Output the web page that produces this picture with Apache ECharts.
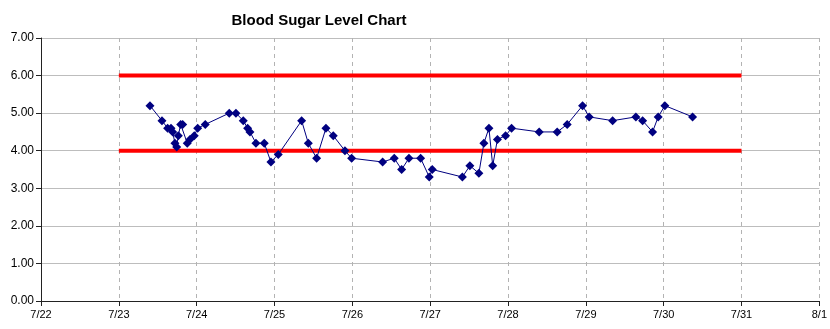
<!DOCTYPE html>
<html>
<head>
<meta charset="utf-8">
<script src="https://cdn.jsdelivr.net/npm/echarts@6/dist/echarts.min.js"></script>
<style>
html,body{margin:0;padding:0;background:#fff;}
#chart{width:830px;height:329px;}
</style>
</head>
<body>
<div id="chart"></div>
<script>
// Reading times and blood sugar values
const times = [
  '2023-07-23 09:36','2023-07-23 13:18','2023-07-23 15:03','2023-07-23 16:05','2023-07-23 16:36',
  '2023-07-23 17:18','2023-07-23 17:50','2023-07-23 18:20','2023-07-23 19:04','2023-07-23 19:41',
  '2023-07-23 21:06','2023-07-23 21:56','2023-07-23 23:15','2023-07-24 00:19','2023-07-24 02:39',
  '2023-07-24 10:03','2023-07-24 12:07','2023-07-24 14:22','2023-07-24 15:43','2023-07-24 16:26',
  '2023-07-24 18:17','2023-07-24 20:50','2023-07-24 22:54','2023-07-25 01:09','2023-07-25 08:22',
  '2023-07-25 10:25','2023-07-25 12:59','2023-07-25 15:52','2023-07-25 18:07','2023-07-25 21:43',
  '2023-07-25 23:47','2023-07-26 09:20','2023-07-26 12:55','2023-07-26 15:12','2023-07-26 17:27',
  '2023-07-26 21:03','2023-07-26 23:43','2023-07-27 00:38','2023-07-27 09:56','2023-07-27 12:15',
  '2023-07-27 15:01','2023-07-27 16:34','2023-07-27 18:07','2023-07-27 19:17','2023-07-27 20:44',
  '2023-07-27 23:15','2023-07-28 01:06','2023-07-28 09:37','2023-07-28 15:10','2023-07-28 18:15',
  '2023-07-28 22:59','2023-07-29 01:02','2023-07-29 08:15','2023-07-29 15:26','2023-07-29 17:30',
  '2023-07-29 20:34','2023-07-29 22:18','2023-07-30 00:22','2023-07-30 08:54'
];
const levels = [
  5.2,4.8,4.6,4.6,4.5,
  4.2,4.1,4.4,4.7,4.7,
  4.2,4.3,4.4,4.6,4.7,
  5.0,5.0,4.8,4.6,4.5,
  4.2,4.2,3.7,3.9,4.8,
  4.2,3.8,4.6,4.4,4.0,
  3.8,3.7,3.8,3.5,3.8,
  3.8,3.3,3.5,3.3,3.6,
  3.4,4.2,4.6,3.6,4.3,
  4.4,4.6,4.5,4.5,4.7,
  5.2,4.9,4.8,4.9,4.8,
  4.5,4.9,5.2,4.9
];
// Target range limits
const limitTimes = ['2023-07-23 00:00','2023-07-31 00:00'];
const upperLimit = [6, 6];
const lowerLimit = [4, 4];
// Axis range
const xMin = '2023-07-22 00:00';
const xMax = '2023-08-01 00:00';
const yTicks = [0,1,2,3,4,5,6,7];

const zip = (a, b) => a.map((v, i) => [v, b[i]]);
const DAY = 86400000;

const chart = echarts.init(document.getElementById('chart'), null, {renderer:'canvas'});
chart.setOption({
  animation: false,
  backgroundColor: '#fff',
  title: {
    text: 'Blood Sugar Level Chart',
    left: 314, top: 8, textAlign: 'center',
    textStyle: {fontFamily: 'Liberation Sans, Arial, sans-serif', fontSize: 15, fontWeight: 'bold', color: '#000'}
  },
  grid: {left: 41, right: 10.5, top: 38, bottom: 28, containLabel: false},
  xAxis: {
    type: 'time',
    min: new Date(xMin).getTime(),
    max: new Date(xMax).getTime(),
    minInterval: DAY, maxInterval: DAY, interval: DAY,
    axisLine: {show: true, lineStyle: {color: '#222', width: 1}},
    axisTick: {show: true, length: 5, lineStyle: {color: '#222'}},
    splitLine: {show: true, lineStyle: {color: '#b3b3b3', type: [4, 4], width: 1}},
    axisLabel: {
      color: '#000', fontFamily: 'Liberation Sans, Arial, sans-serif', fontSize: 11, margin: 8,
      showMinLabel: true, showMaxLabel: true,
      formatter: function (v) { const d = new Date(v); return (d.getMonth()+1) + '/' + d.getDate(); }
    }
  },
  yAxis: {
    type: 'value',
    min: yTicks[0], max: yTicks[yTicks.length-1], interval: 1,
    axisLine: {show: true, lineStyle: {color: '#222', width: 1}},
    axisTick: {show: true, length: 5, lineStyle: {color: '#222'}},
    splitLine: {show: true, lineStyle: {color: '#bdbdbd', width: 1}},
    axisLabel: {
      color: '#000', fontFamily: 'Liberation Sans, Arial, sans-serif', fontSize: 12, margin: 7,
      formatter: v => v.toFixed(2)
    }
  },
  series: [
    {
      type: 'line', data: zip(limitTimes, upperLimit), symbol: 'none',
      lineStyle: {color: '#ff0000', width: 4}, z: 2
    },
    {
      type: 'line', data: zip(limitTimes, lowerLimit), symbol: 'none',
      lineStyle: {color: '#ff0000', width: 4}, z: 2
    },
    {
      type: 'line', data: zip(times, levels),
      symbol: 'diamond', symbolSize: 9, showAllSymbol: true,
      lineStyle: {color: '#000080', width: 1},
      itemStyle: {color: '#000080'}, z: 3
    }
  ]
});
</script>
</body>
</html>
